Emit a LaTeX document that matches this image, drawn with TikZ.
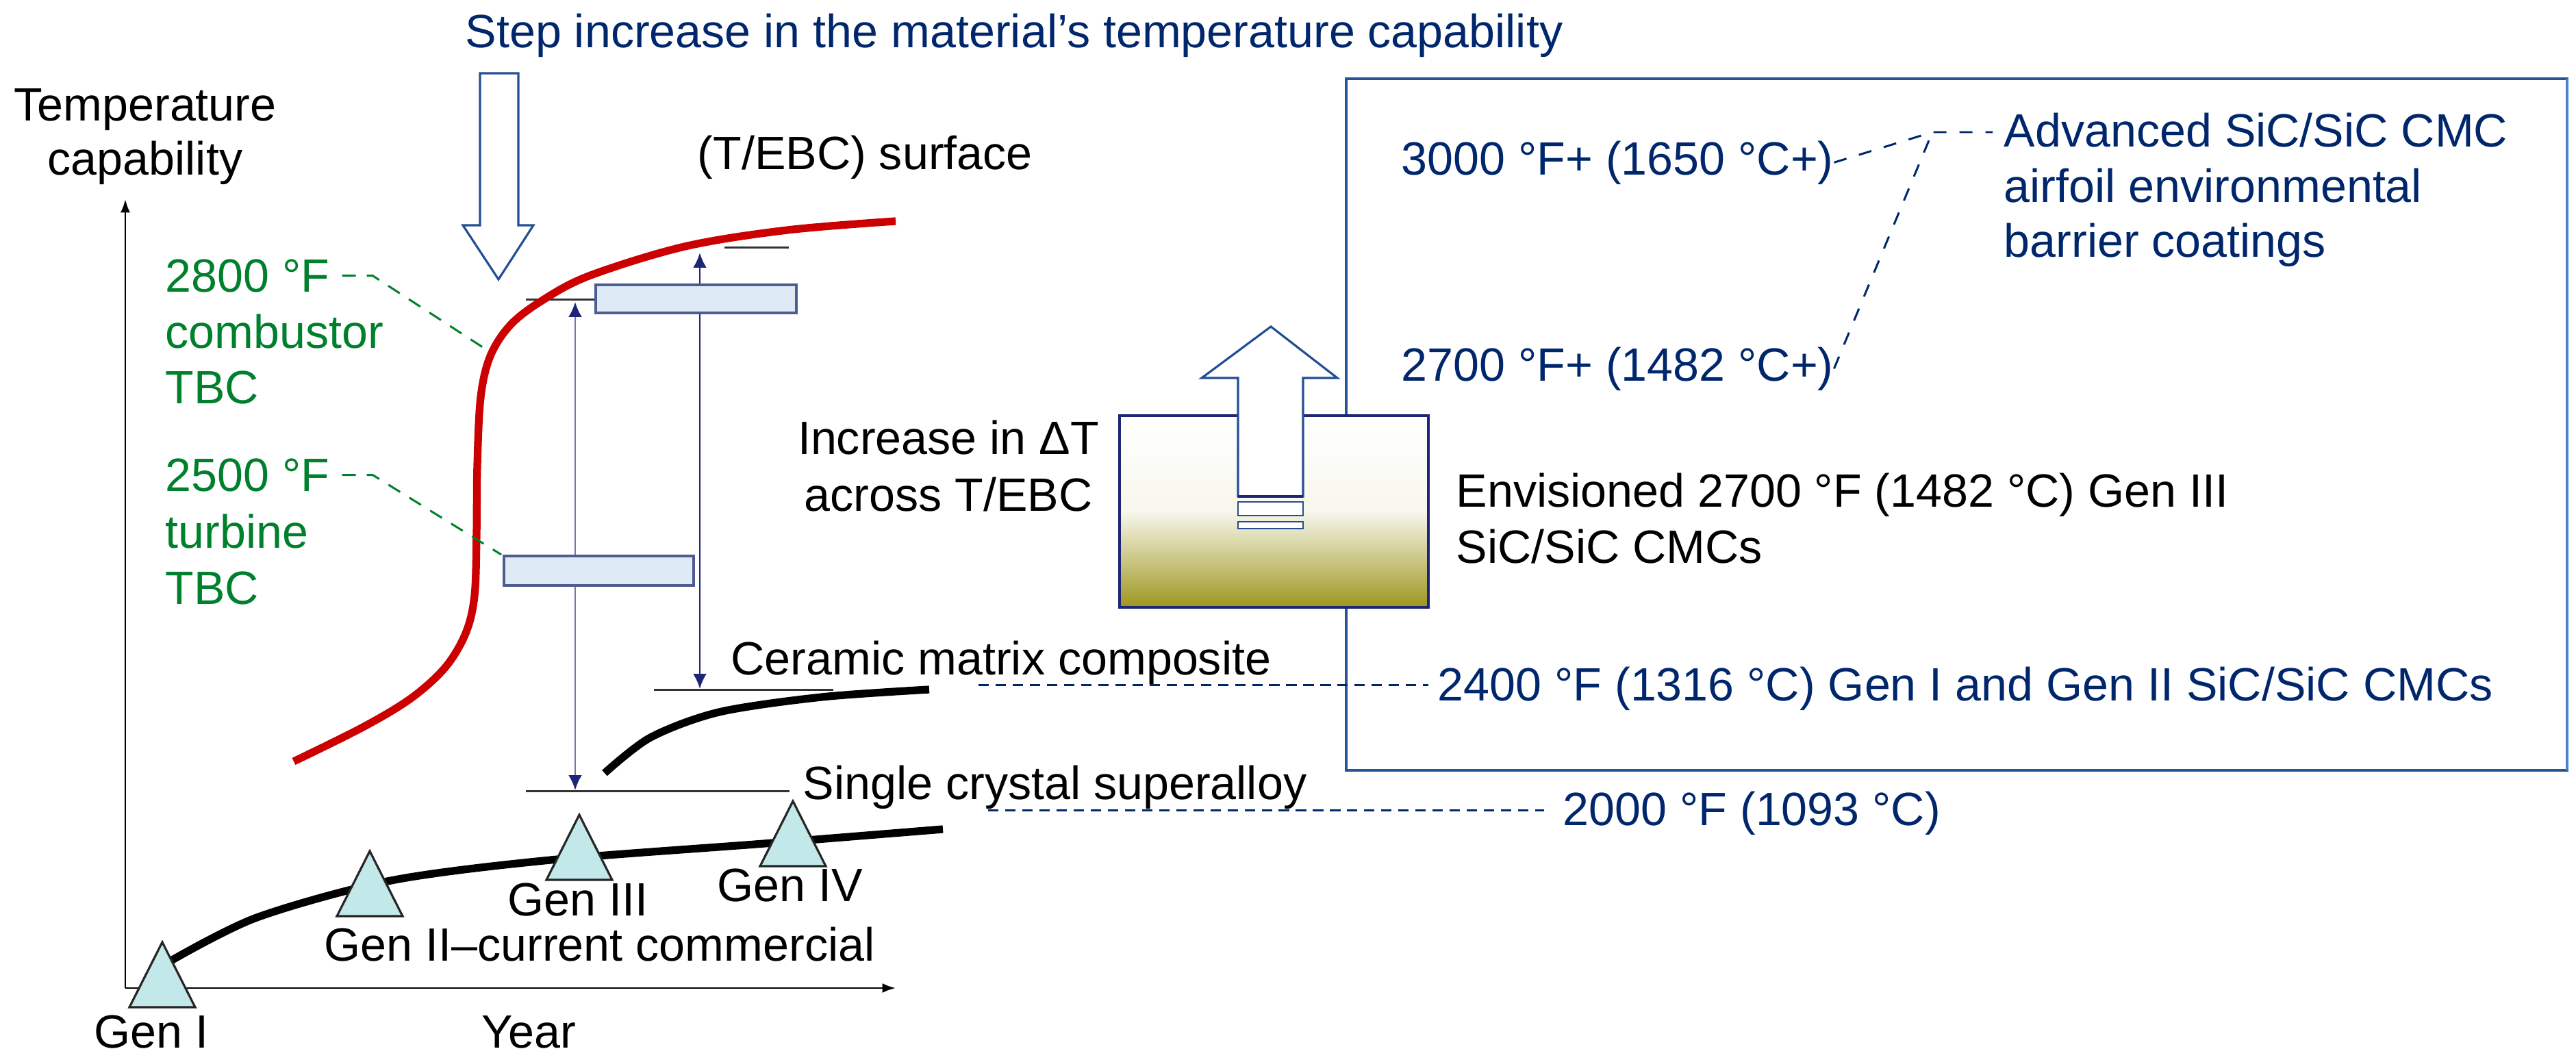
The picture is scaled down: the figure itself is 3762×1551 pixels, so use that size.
\documentclass[tikz,border=0pt]{standalone}
\usepackage{fontspec}
\setmainfont{Liberation Sans}
\usetikzlibrary{arrows.meta}
\definecolor{navytext}{RGB}{0,38,108}
\definecolor{dimblue}{RGB}{30,36,120}
\definecolor{dimlight}{RGB}{112,120,172}
\definecolor{frameblue}{RGB}{38,82,150}
\definecolor{framelight}{RGB}{72,132,204}
\definecolor{tbcgreen}{RGB}{0,128,45}
\definecolor{tbcred}{RGB}{204,0,0}
\definecolor{barfill}{RGB}{222,234,246}
\definecolor{baredge}{RGB}{78,92,146}
\definecolor{genfill}{RGB}{194,232,234}
\definecolor{boxolive}{RGB}{158,150,30}
\definecolor{hollowblue}{RGB}{36,78,148}

\tikzset{
  txt/.style={anchor=base west, inner sep=0pt, font=\fontsize{19.4}{23}\selectfont},
  navytxt/.style={txt, text=navytext},
  greentxt/.style={txt, text=tbcgreen},
  refline/.style={line width=0.85pt, black!80},
  axisline/.style={line width=0.8pt, -{Latex[length=5.5pt,width=4pt]}},
  dimarrow/.style={line width=0.8pt, {Latex[length=6.2pt,width=5.6pt,color=dimblue]}-{Latex[length=6.2pt,width=5.6pt,color=dimblue]}},
  tbcbar/.style={fill=barfill, draw=baredge, line width=0.9pt},
  genmark/.style={fill=genfill, draw=black!85, line width=0.9pt},
  trend/.style={line width=3.2pt},
  leader/.style={dash pattern=on 5.7pt off 4.5pt, line width=0.85pt},
  navyleader/.style={navytext, dash pattern=on 4.3pt off 2.8pt, line width=0.85pt},
  hollowarrow/.style={draw=hollowblue, fill=white, line width=0.9pt, line join=miter},
}

\begin{document}
\begin{tikzpicture}[x=0.01cm, y=-0.01cm]
  \useasboundingbox (0,0) rectangle (3762,1551);

  % frame and inset box
  \draw[frameblue, line width=1.1pt] (1966,115) rectangle (3749,1125);
  \draw[framelight, line width=1.3pt] (3749,115) -- (3749,1125);
  \draw[dimblue, line width=1pt, top color=white, bottom color=boxolive, middle color=white!92!boxolive] (1635,607) rectangle (2086,887);
  \draw[hollowarrow] (1808,725) -- (1808,552) -- (1755,552) -- (1856,477) -- (1953,552) -- (1903,552) -- (1903,725) -- cycle;
  \draw[dimblue, line width=1.4pt] (1808,725) -- (1903,725);
  \draw[hollowarrow, line width=0.8pt] (1808,733) rectangle (1903,753);
  \draw[hollowarrow, line width=0.8pt] (1808,762) rectangle (1903,772);

  % axes
  \coordinate (O) at (183,1443);
  \coordinate (ytip) at (183,291);
  \coordinate (xtip) at (1308,1443);
  \draw[axisline] (O) -- (ytip);
  \draw[axisline] (O) -- (xtip);

  \draw[hollowarrow] (701,107) -- (757,107) -- (757,329) -- (779,329) -- (728,408) -- (676,329) -- (701,329) -- cycle;

  % reference levels and spans
  \draw[refline] (768,437) -- (870,437);
  \draw[refline] (1058,361) -- (1152,361);
  \draw[refline] (955,1007) -- (1217,1007);
  \draw[refline] (768,1155) -- (1153,1155);
  \coordinate (a1top) at (840,441);
  \coordinate (a1bot) at (840,1154);
  \coordinate (a2top) at (1022,369);
  \coordinate (a2bot) at (1022,1006);
  \draw[dimarrow, dimlight] (a1bot) -- (a1top);
  \draw[dimarrow, dimblue] (a2bot) -- (a2top);
  \draw[tbcbar] (870,416) rectangle (1163,457);
  \draw[tbcbar] (736,812) rectangle (1013,855);

  \draw[trend, tbcred] plot[smooth, tension=0.55] coordinates {(429,1112) (530,1062) (600,1020) (650,975) (680,925) (693,870) (696,780) (697,680) (702,580) (716,520) (745,475) (790,440) (860,403) (1000,360) (1150,336) (1308,323)};
  \draw[trend] plot[smooth] coordinates {(883,1129) (950,1077) (1050,1040) (1200,1018) (1357,1007)};
  \draw[trend] plot[smooth] coordinates {(248,1404) (375,1340) (571,1286) (804,1256) (1116,1232) (1377,1211)};
  \foreach \x/\y in {237/1376, 540/1243, 846/1190, 1158/1170}
    \draw[genmark] (\x,\y) -- ++(48,95) -- ++(-96,0) -- cycle;

  % labels
  \node[navytxt] (title) at (679,69) {Step increase in the material’s temperature capability};
  \node[txt, anchor=base] (ylab1) at (212,176) {Temperature};
  \node[txt, anchor=base] (ylab2) at (212,255) {capability};
  \node[txt] (tebc) at (1018,247) {(T/EBC) surface};
  \node[greentxt] (t2800) at (241,426) {2800 °F};
  \node[greentxt] (t2800b) at (241,508) {combustor};
  \node[greentxt] (t2800c) at (241,589) {TBC};
  \node[greentxt] (t2500) at (241,717) {2500 °F};
  \node[greentxt] (t2500b) at (241,800) {turbine};
  \node[greentxt] (t2500c) at (241,882) {TBC};
  \node[txt, anchor=base] (dT1) at (1385,663) {Increase in ΔT};
  \node[txt, anchor=base] (dT2) at (1385,746) {across T/EBC};
  \node[txt] (env1) at (2126,740) {Envisioned 2700 °F (1482 °C) Gen III};
  \node[txt] (env2) at (2126,822) {SiC/SiC CMCs};
  \node[navytxt] (adv1) at (2926,214) {Advanced SiC/SiC CMC};
  \node[navytxt] (adv2) at (2926,295) {airfoil environmental};
  \node[navytxt] (adv3) at (2926,375) {barrier coatings};
  \node[navytxt] (f3000) at (2046,255) {3000 °F+ (1650 °C+)};
  \node[navytxt] (f2700) at (2046,556) {2700 °F+ (1482 °C+)};
  \node[navytxt] (f2400) at (2099,1023) {2400 °F (1316 °C) Gen I and Gen II SiC/SiC CMCs};
  \node[navytxt] (f2000) at (2282,1205) {2000 °F (1093 °C)};
  \node[txt] (cmc) at (1067,985) {Ceramic matrix composite};
  \node[txt] (sx) at (1172,1167) {Single crystal superalloy};
  \node[txt, anchor=base] (gen1) at (221,1530) {Gen I};
  \node[txt, anchor=base] (year) at (772,1530) {Year};
  \node[txt] (gen2) at (473,1403) {Gen II–current commercial};
  \node[txt, anchor=base] (gen3) at (844,1337) {Gen III};
  \node[txt, anchor=base] (gen4) at (1154,1316) {Gen IV};

  % leaders
  \coordinate (k2800) at (714,513);
  \coordinate (k2500) at (732,810);
  \draw[leader, tbcgreen, shorten <=5pt] (t2800.east) -- ++(62,0) -- (k2800);
  \draw[leader, tbcgreen, shorten <=5pt] (t2500.east) -- ++(62,0) -- (k2500);
  \coordinate (s2400) at (1429,1000);
  \coordinate (s2000) at (1443,1183);
  \draw[navyleader, shorten >=3.7pt] (s2400) -- (s2400 -| f2400.west);
  \draw[navyleader, shorten >=7.7pt] (s2000) -- (s2000 -| f2000.west);
  \coordinate (jn) at (2822,193);
  \draw[navyleader, dash pattern=on 5.4pt off 5.4pt, shorten >=4.5pt] (f3000.east) -- (jn) -- (jn -| adv1.west);
  \draw[navyleader, dash pattern=on 5.4pt off 5.4pt] (f2700.east) -- (jn);
\end{tikzpicture}
\end{document}
